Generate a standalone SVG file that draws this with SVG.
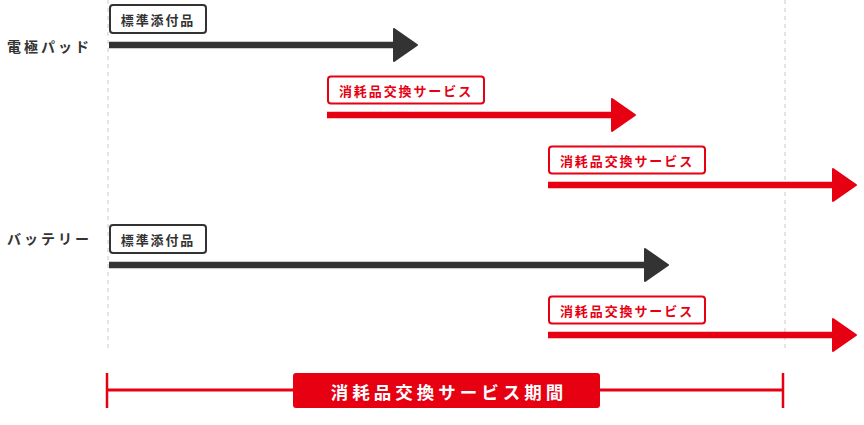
<svg xmlns="http://www.w3.org/2000/svg" width="864" height="425" viewBox="0 0 864 425">
<style>
  text { font-family: "Noto Sans CJK JP", "Noto Sans", sans-serif; font-weight: bold; }
  .row { font-size: 14px; fill: #333; letter-spacing: 3px; dominant-baseline: central; }
  .tag { font-size: 13px; letter-spacing: 1.9px; text-anchor: middle; dominant-baseline: central; }
  .tagbox-k { fill: #fff; stroke: #333; stroke-width: 2; }
  .tagbox-r { fill: #fff; stroke: #e60012; stroke-width: 2; }
  .guide { stroke: #dcdcdc; stroke-width: 1.5; stroke-dasharray: 4 4; }
  .shaft-k { stroke: #333; stroke-width: 6.5; }
  .shaft-r { stroke: #e60012; stroke-width: 6.5; }
  .head-k { fill: #333; stroke: #333; stroke-width: 2; stroke-linejoin: round; }
  .head-r { fill: #e60012; stroke: #e60012; stroke-width: 2; stroke-linejoin: round; }
</style>
<g id="guides">
  <line class="guide" x1="108" y1="0" x2="108" y2="352"/>
  <line class="guide" x1="785" y1="0" x2="785" y2="352"/>
</g>
<g id="label-pad"><text class="row" x="7" y="46">電極パッド</text></g>
<g id="label-battery"><text class="row" x="7" y="238">バッテリー</text></g>
<g id="connectors">
  <line class="shaft-k" x1="109" y1="45" x2="396" y2="45"/>
  <path class="head-k" d="M394,29 L417,45 L394,61 Z"/>
  <line class="shaft-r" x1="327" y1="115" x2="614" y2="115"/>
  <path class="head-r" d="M612,99 L635,115 L612,131 Z"/>
  <line class="shaft-r" x1="548" y1="185" x2="835" y2="185"/>
  <path class="head-r" d="M833,169 L856,185 L833,201 Z"/>
  <line class="shaft-k" x1="109" y1="265" x2="647" y2="265"/>
  <path class="head-k" d="M645,249 L668,265 L645,281 Z"/>
  <line class="shaft-r" x1="548" y1="335" x2="835" y2="335"/>
  <path class="head-r" d="M833,319 L856,335 L833,351 Z"/>
</g>
<g id="tag-pad-std">
  <rect class="tagbox-k" x="110" y="5" width="96" height="28" rx="3"/>
  <text class="tag" x="158" y="19.5" fill="#333">標準添付品</text>
</g>
<g id="tag-pad-svc1">
  <rect class="tagbox-r" x="328" y="76.5" width="156" height="27" rx="3"/>
  <text class="tag" x="406" y="90" fill="#e60012">消耗品交換サービス</text>
</g>
<g id="tag-pad-svc2">
  <rect class="tagbox-r" x="549" y="146.5" width="156" height="27" rx="3"/>
  <text class="tag" x="627" y="160" fill="#e60012">消耗品交換サービス</text>
</g>
<g id="tag-battery-std">
  <rect class="tagbox-k" x="110" y="225" width="96" height="28" rx="3"/>
  <text class="tag" x="158" y="239.5" fill="#333">標準添付品</text>
</g>
<g id="tag-battery-svc">
  <rect class="tagbox-r" x="549" y="296.5" width="156" height="27" rx="3"/>
  <text class="tag" x="627" y="310" fill="#e60012">消耗品交換サービス</text>
</g>
<g id="period">
  <line x1="107" y1="373" x2="107" y2="408" stroke="#e60012" stroke-width="2.5"/>
  <line x1="783" y1="373" x2="783" y2="408" stroke="#e60012" stroke-width="2.5"/>
  <line x1="107" y1="390" x2="783" y2="390" stroke="#e60012" stroke-width="3"/>
  <rect x="293" y="373" width="307" height="35" rx="3" fill="#e60012"/>
  <text x="449" y="391" font-size="17.5" fill="#fff" letter-spacing="4" text-anchor="middle" dominant-baseline="central">消耗品交換サービス期間</text>
</g>
</svg>
